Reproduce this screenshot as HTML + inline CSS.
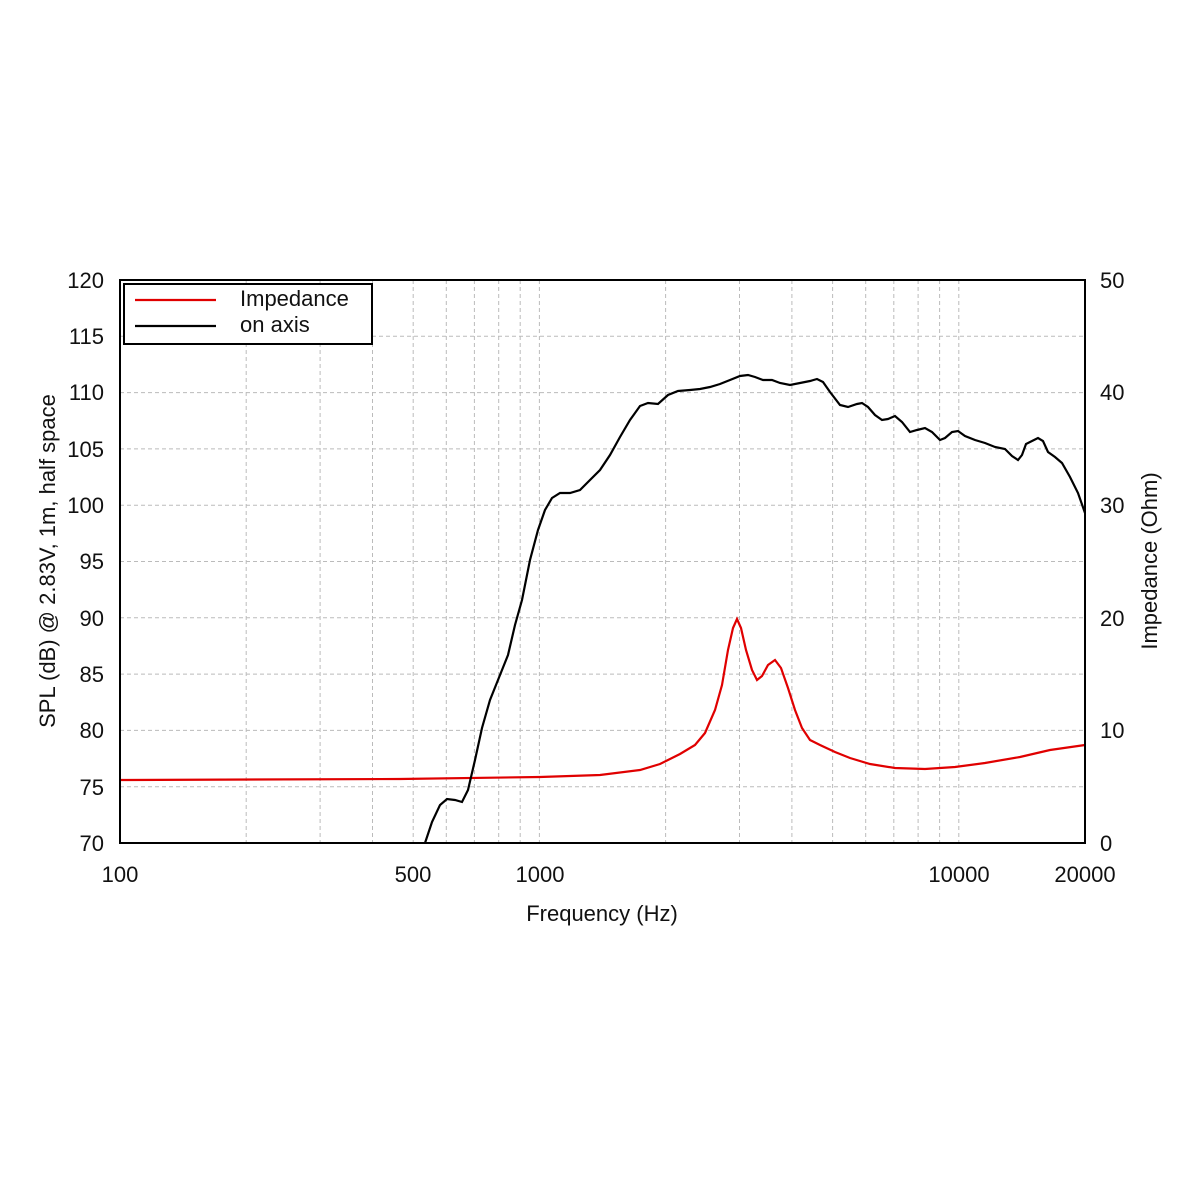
<!DOCTYPE html>
<html><head><meta charset="utf-8"><style>body{margin:0;background:#fff}svg{display:block}text{font-family:"Liberation Sans",sans-serif;font-size:22px;fill:#111}</style></head>
<body>
<svg width="1200" height="1200" viewBox="0 0 1200 1200">
<g stroke="#bbb" stroke-width="1" stroke-dasharray="4,3">
<line x1="246.2" y1="280" x2="246.2" y2="843"/><line x1="320.1" y1="280" x2="320.1" y2="843"/><line x1="372.5" y1="280" x2="372.5" y2="843"/><line x1="413.2" y1="280" x2="413.2" y2="843"/><line x1="446.3" y1="280" x2="446.3" y2="843"/><line x1="474.4" y1="280" x2="474.4" y2="843"/><line x1="498.7" y1="280" x2="498.7" y2="843"/><line x1="520.2" y1="280" x2="520.2" y2="843"/><line x1="539.4" y1="280" x2="539.4" y2="843"/>
<line x1="665.6" y1="280" x2="665.6" y2="843"/><line x1="739.5" y1="280" x2="739.5" y2="843"/><line x1="791.9" y1="280" x2="791.9" y2="843"/><line x1="832.6" y1="280" x2="832.6" y2="843"/><line x1="865.7" y1="280" x2="865.7" y2="843"/><line x1="893.8" y1="280" x2="893.8" y2="843"/><line x1="918.1" y1="280" x2="918.1" y2="843"/><line x1="939.6" y1="280" x2="939.6" y2="843"/><line x1="958.8" y1="280" x2="958.8" y2="843"/>
<line x1="120" y1="336.3" x2="1085" y2="336.3"/><line x1="120" y1="392.6" x2="1085" y2="392.6"/><line x1="120" y1="448.9" x2="1085" y2="448.9"/><line x1="120" y1="505.2" x2="1085" y2="505.2"/><line x1="120" y1="561.5" x2="1085" y2="561.5"/><line x1="120" y1="617.8" x2="1085" y2="617.8"/><line x1="120" y1="674.1" x2="1085" y2="674.1"/><line x1="120" y1="730.4" x2="1085" y2="730.4"/><line x1="120" y1="786.7" x2="1085" y2="786.7"/>
</g>
<polyline fill="none" stroke="#e00000" stroke-width="2.2" points="120,780 400,779 540,777 600,775 640,770 660,764 680,754 695,745 705,733 715,710 722,685 728,650 733,628 737,619 741,628 746,650 752,670 757,680 762,676 768,665 775,660 781,668 788,688 795,710 802,728 810,740 820,745 835,752 850,758 870,764 895,768 925,769 955,767 985,763 1020,757 1050,750 1085,745"/>
<polyline fill="none" stroke="#000" stroke-width="2.2" points="425,843 432,822 440,805 447,799 455,800 462,802 468,790 475,760 482,728 490,700 498,680 508,655 515,625 522,600 530,560 538,530 545,510 552,498 560,493 570,493 580,490 590,480 600,470 610,455 620,437 630,420 640,406 648,403 658,404 668,395 678,391 690,390 700,389 710,387 720,384 730,380 740,376 748,375 755,377 763,380 772,380 780,383 790,385 800,383 810,381 817,379 823,382 830,392 840,405 848,407 857,404 862,403 868,407 875,415 882,420 888,419 895,416 902,422 910,432 917,430 925,428 932,432 940,440 945,438 952,432 958,431 965,436 975,440 985,443 995,447 1005,449 1012,456 1018,460 1022,455 1026,444 1032,441 1038,438 1043,441 1048,452 1055,457 1062,463 1070,477 1078,493 1085,513"/>
<rect x="120" y="280" width="965" height="563" fill="none" stroke="#000" stroke-width="2"/>
<rect x="124" y="284" width="248" height="60" fill="#fff" stroke="#000" stroke-width="2"/>
<line x1="135" y1="300" x2="216" y2="300" stroke="#e00000" stroke-width="2.2"/>
<line x1="135" y1="326" x2="216" y2="326" stroke="#000" stroke-width="2.2"/>
<text x="240" y="306">Impedance</text><text x="240" y="332">on axis</text>
<g text-anchor="end">
<text x="104" y="288">120</text><text x="104" y="344">115</text><text x="104" y="400">110</text><text x="104" y="457">105</text><text x="104" y="513">100</text><text x="104" y="569">95</text><text x="104" y="626">90</text><text x="104" y="682">85</text><text x="104" y="738">80</text><text x="104" y="795">75</text><text x="104" y="851">70</text>
</g>
<g>
<text x="1100" y="288">50</text><text x="1100" y="400">40</text><text x="1100" y="513">30</text><text x="1100" y="626">20</text><text x="1100" y="738">10</text><text x="1100" y="851">0</text>
</g>
<g text-anchor="middle">
<text x="120" y="882">100</text><text x="413" y="882">500</text><text x="540" y="882">1000</text><text x="959" y="882">10000</text><text x="1085" y="882">20000</text>
<text x="602" y="921">Frequency (Hz)</text>
<text transform="translate(55,561) rotate(-90)">SPL (dB) @ 2.83V, 1m, half space</text>
<text transform="translate(1157,561) rotate(-90)">Impedance (Ohm)</text>
</g>
</svg>
</body></html>
